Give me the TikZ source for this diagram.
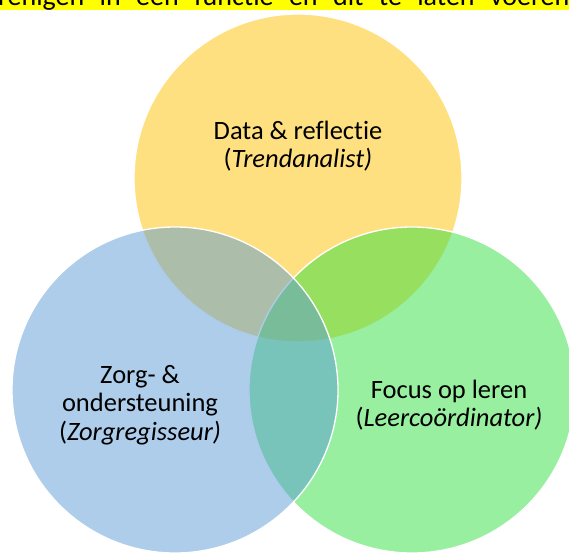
\documentclass[tikz,border=0pt]{standalone}
\usepackage{fontspec}
\setmainfont{Carlito}[Ligatures=NoCommon]
\usepackage{xcolor}
\usepackage{tikz}

\definecolor{dataYellow}{RGB}{255,193,1}
\definecolor{zorgBlue}{RGB}{91,155,213}
\definecolor{focusGreen}{RGB}{49,223,65}
\definecolor{markYellow}{RGB}{255,255,0}

\begin{document}
\begin{tikzpicture}[
    x=1pt, y=-1pt,
    venn/.style={circle, draw=white, line width=1.3pt, fill opacity=0.5, draw opacity=1, minimum size=#1, inner sep=0pt},
    lbl/.style={align=center, font=\fontsize{26.5}{28.5}\selectfont},
    topline/.style={anchor=base west, inner sep=0pt, font=\fontsize{28}{30}\selectfont}
]
    \useasboundingbox (0,0) rectangle (569,552);
    \clip (0,0) rectangle (569,552);

    % highlighted heading, cut at the top
    \fill[markYellow] (0,0) rectangle (569,10);
    \node[topline] (kop) at (-2,5) {\makebox[571pt][s]{renigen in een functie en dit te laten voeren}};

    % the three roles
    \node[venn=328pt, fill=dataYellow] (data) at (298,178) {};
    \node[venn=326pt, fill=focusGreen] (focus) at (412,390) {};
    \node[venn=326pt, fill=zorgBlue] (zorg) at (175,390) {};

    % labels
    \node[lbl] (dataTxt) at (298,146) {Data \& reflectie\\(\textit{Trendanalist)}};
    \node[lbl] (zorgTxt) at (140,405) {Zorg- \&\\ondersteuning\\(\textit{Zorgregisseur)}};
    \node[lbl] (focusTxt) at (449,405) {Focus op leren\\(\textit{Leercoördinator)}};
\end{tikzpicture}
\end{document}
